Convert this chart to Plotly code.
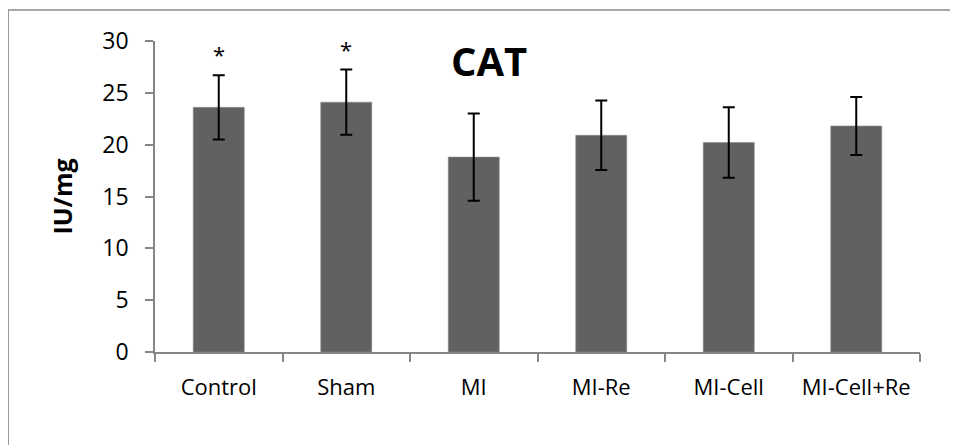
import plotly.graph_objects as go

categories = ["Control", "Sham", "MI", "MI-Re", "MI-Cell", "MI-Cell+Re"]
means = [23.6, 24.1, 18.8, 20.9, 20.2, 21.8]
errors = [3.1, 3.15, 4.2, 3.35, 3.4, 2.8]
sig_marks = ["*", "*", "", "", "", ""]
y_ticks = [0, 5, 10, 15, 20, 25, 30]

FONT = "Open Sans"

fig = go.Figure()
fig.add_trace(go.Bar(
    x=categories, y=means,
    marker=dict(color="#616161", line=dict(color="#8a8a8a", width=0.6)),
    width=0.4,
    error_y=dict(type="data", array=errors, visible=True, color="black",
                 thickness=2, width=6),
    showlegend=False,
))

for c, m, e, s in zip(categories, means, errors, sig_marks):
    if s:
        fig.add_annotation(x=c, y=m + e, text=s, showarrow=False,
                           yanchor="bottom", yshift=4,
                           font=dict(family=FONT, size=22, color="black"))

fig.add_annotation(x=0.437, y=0.936, xref="paper", yref="paper", text="<b>CAT</b>",
                   showarrow=False, xanchor="center", yanchor="middle",
                   font=dict(family=FONT, size=40, color="black"))

fig.add_shape(type="rect", xref="paper", yref="paper",
              x0=-0.192, x1=1.2, y0=-0.4, y1=1.0997,
              line=dict(color="#8c8c8c", width=1.5), fillcolor="rgba(0,0,0,0)", layer="below")

# The page body has an 8px margin, so the figure is 8px smaller and shifted.
fig.update_layout(
    width=950, height=437,
    margin=dict(l=147, r=38, t=33, b=93),
    plot_bgcolor="white", paper_bgcolor="white",
    font=dict(family=FONT, size=22, color="black"),
)
fig.update_xaxes(
    showline=True, linecolor="#868686", linewidth=1.5,
    ticks="outside", ticklen=8, tickcolor="#868686", tickwidth=1.5,
    tickson="boundaries", showgrid=False, ticklabelstandoff=15,
    tickfont=dict(family=FONT, size=22),
)
fig.update_yaxes(
    range=[0, 30], tickvals=y_ticks, showline=True, linecolor="#868686", linewidth=1.5,
    ticks="outside", ticklen=8, tickcolor="#868686", tickwidth=1.5,
    showgrid=False, zeroline=False, ticklabelstandoff=12,
    tickfont=dict(family=FONT, size=23),
    title=dict(text="<b>IU/mg</b>", font=dict(family=FONT, size=25), standoff=23),
)

fig.write_html("out.html")
